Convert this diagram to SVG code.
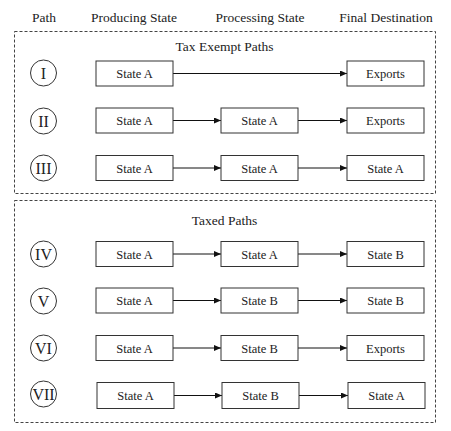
<svg xmlns="http://www.w3.org/2000/svg" width="451" height="431" viewBox="0 0 451 431">
<style>
text{font-family:"Liberation Serif","Times New Roman",serif;fill:#222;}
.hdr{font-size:13.5px;text-anchor:middle;}
.lbl{font-size:12.5px;text-anchor:middle;}
.num{font-size:16px;text-anchor:middle;}
.box{fill:#fff;stroke:#333;stroke-width:1;}
.circ{fill:#fff;stroke:#333;stroke-width:1;}
.grp{fill:none;stroke:#444;stroke-width:1;stroke-dasharray:3,2;}
.edge{stroke:#111;stroke-width:1;fill:none;marker-end:url(#arr);}
</style>
<defs>
<marker id="arr" markerWidth="8" markerHeight="6" refX="7" refY="3" orient="auto" markerUnits="userSpaceOnUse">
<path d="M0,0 L7,3 L0,6 Z" fill="#111"/>
</marker>
</defs>
<rect width="451" height="431" fill="#fff"/>
<g id="headers">
<text class="hdr" x="44" y="22">Path</text>
<text class="hdr" x="134" y="22">Producing State</text>
<text class="hdr" x="260" y="22">Processing State</text>
<text class="hdr" x="386" y="22">Final Destination</text>
</g>
<g id="exempt-group">
<rect class="grp" x="14.5" y="31.5" width="421" height="162"/>
<text class="hdr" x="224.5" y="51">Tax Exempt Paths</text>
</g>
<g id="taxed-group">
<rect class="grp" x="14.5" y="200.5" width="421" height="222"/>
<text class="hdr" x="224.5" y="225">Taxed Paths</text>
</g>
<g id="connectors">
<line class="edge" x1="173" y1="73.5" x2="347" y2="73.5"/>
<line class="edge" x1="173" y1="120.5" x2="221" y2="120.5"/>
<line class="edge" x1="298" y1="120.5" x2="347" y2="120.5"/>
<line class="edge" x1="173" y1="168" x2="221" y2="168"/>
<line class="edge" x1="298" y1="168" x2="347" y2="168"/>
<line class="edge" x1="173" y1="254" x2="221" y2="254"/>
<line class="edge" x1="298" y1="254" x2="347" y2="254"/>
<line class="edge" x1="173" y1="300.5" x2="221" y2="300.5"/>
<line class="edge" x1="298" y1="300.5" x2="347" y2="300.5"/>
<line class="edge" x1="173" y1="348" x2="221" y2="348"/>
<line class="edge" x1="298" y1="348" x2="347" y2="348"/>
<line class="edge" x1="174" y1="395.5" x2="222" y2="395.5"/>
<line class="edge" x1="299" y1="395.5" x2="348" y2="395.5"/>
</g>
<g id="path-I"><circle class="circ" cx="43.5" cy="73" r="13"/><text class="num" x="43.5" y="78.5">I</text></g>
<g id="path-II"><circle class="circ" cx="43.5" cy="121" r="13"/><text class="num" x="43.5" y="126.5">II</text></g>
<g id="path-III"><circle class="circ" cx="43.5" cy="168" r="13"/><text class="num" x="43.5" y="173.5">III</text></g>
<g id="path-IV"><circle class="circ" cx="43.5" cy="254" r="13"/><text class="num" x="43.5" y="259.5">IV</text></g>
<g id="path-V"><circle class="circ" cx="43.5" cy="301" r="13"/><text class="num" x="43.5" y="306.5">V</text></g>
<g id="path-VI"><circle class="circ" cx="43.5" cy="348" r="13"/><text class="num" x="43.5" y="353.5">VI</text></g>
<g id="path-VII"><circle class="circ" cx="43.5" cy="394" r="13"/><text class="num" x="43.5" y="399.5">VII</text></g>

<g id="r1-prod"><rect class="box" x="96" y="61" width="77" height="25"/><text class="lbl" x="134.5" y="78">State A</text></g>
<g id="r1-dest"><rect class="box" x="347" y="61" width="77" height="25"/><text class="lbl" x="385.5" y="78">Exports</text></g>

<g id="r2-prod"><rect class="box" x="96" y="108" width="77" height="25"/><text class="lbl" x="134.5" y="125">State A</text></g>
<g id="r2-proc"><rect class="box" x="221" y="108" width="77" height="25"/><text class="lbl" x="259.5" y="125">State A</text></g>
<g id="r2-dest"><rect class="box" x="347" y="108" width="77" height="25"/><text class="lbl" x="385.5" y="125">Exports</text></g>

<g id="r3-prod"><rect class="box" x="96" y="155.5" width="77" height="25"/><text class="lbl" x="134.5" y="172.5">State A</text></g>
<g id="r3-proc"><rect class="box" x="221" y="155.5" width="77" height="25"/><text class="lbl" x="259.5" y="172.5">State A</text></g>
<g id="r3-dest"><rect class="box" x="347" y="155.5" width="77" height="25"/><text class="lbl" x="385.5" y="172.5">State A</text></g>

<g id="r4-prod"><rect class="box" x="96" y="241.5" width="77" height="25"/><text class="lbl" x="134.5" y="258.5">State A</text></g>
<g id="r4-proc"><rect class="box" x="221" y="241.5" width="77" height="25"/><text class="lbl" x="259.5" y="258.5">State A</text></g>
<g id="r4-dest"><rect class="box" x="347" y="241.5" width="77" height="25"/><text class="lbl" x="385.5" y="258.5">State B</text></g>

<g id="r5-prod"><rect class="box" x="96" y="288" width="77" height="25"/><text class="lbl" x="134.5" y="305">State A</text></g>
<g id="r5-proc"><rect class="box" x="221" y="288" width="77" height="25"/><text class="lbl" x="259.5" y="305">State B</text></g>
<g id="r5-dest"><rect class="box" x="347" y="288" width="77" height="25"/><text class="lbl" x="385.5" y="305">State B</text></g>

<g id="r6-prod"><rect class="box" x="96" y="335.5" width="77" height="25"/><text class="lbl" x="134.5" y="352.5">State A</text></g>
<g id="r6-proc"><rect class="box" x="221" y="335.5" width="77" height="25"/><text class="lbl" x="259.5" y="352.5">State B</text></g>
<g id="r6-dest"><rect class="box" x="347" y="335.5" width="77" height="25"/><text class="lbl" x="385.5" y="352.5">Exports</text></g>

<g id="r7-prod"><rect class="box" x="97" y="382.5" width="77" height="26"/><text class="lbl" x="135.5" y="400">State A</text></g>
<g id="r7-proc"><rect class="box" x="222" y="382.5" width="77" height="26"/><text class="lbl" x="260.5" y="400">State B</text></g>
<g id="r7-dest"><rect class="box" x="348" y="382.5" width="77" height="26"/><text class="lbl" x="386.5" y="400">State A</text></g>
</svg>
